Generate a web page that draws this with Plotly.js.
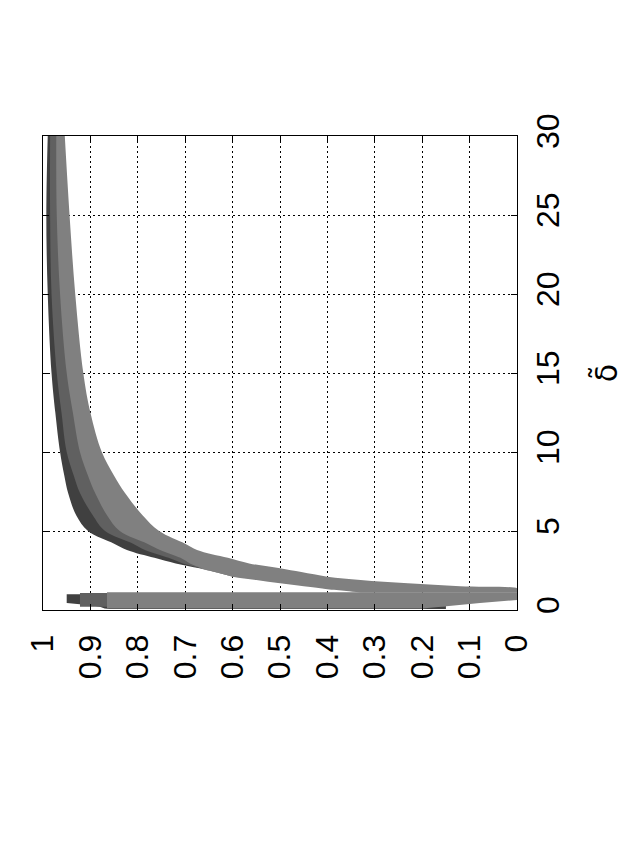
<!DOCTYPE html>
<html>
<head>
<meta charset="utf-8">
<script src="https://cdn.plot.ly/plotly-3.0.1.min.js"></script>
<style>
html,body{margin:0;padding:0;background:#fff;}
#chart{width:641px;height:854px;}
</style>
</head>
<body>
<div id="chart"></div>
<script>
// δ̃ grid for the rising (upper) branch
const deltaUpper = [30,25,20,15,12.5,10,8.5,7.4,6,5,4.2,3.8,3.3,2.95,2.64,2.4,2.11,1.9,1.69,1.5,1.37,1.31,1.2,1.1];
const deltaUpperShort = [30,25,20,15,12.5,10,8.5,7.4,6,5,4.2,3.8,3.3,2.95,2.64,2.4,2.11];

// light series: min / max of values on the upper branch
const lightUpperMin = [0.954,0.944,0.932,0.915,0.900,0.876,0.850,0.827,0.790,0.755,0.700,0.675,0.610,0.565,0.500,0.455,0.400,0.330,0.230,0.120,0,0,0,0];
const lightUpperMax = [0.972,0.971,0.964,0.950,0.937,0.922,0.905,0.890,0.865,0.838,0.780,0.753,0.710,0.690,0.665,0.635,0.600,0.550,0.500,0.450,0.415,0.400,0.360,0.330];
// medium series
const mediumUpperMin = [0.963,0.957,0.948,0.932,0.918,0.899,0.877,0.858,0.827,0.796,0.740,0.714,0.660,0.627,0.582,0.545,0.500];
const mediumUpperMax = [0.985,0.985,0.982,0.971,0.961,0.950,0.935,0.922,0.895,0.869,0.810,0.785,0.735,0.705,0.666,0.636,0.598];
// dark series
const darkUpperMin = [0.972,0.971,0.964,0.950,0.937,0.922,0.905,0.890,0.865,0.838,0.780,0.753,0.710,0.690,0.665,0.635,0.600];
const darkUpperMax = [0.990,0.993,0.990,0.982,0.974,0.964,0.955,0.947,0.930,0.905,0.850,0.823,0.765,0.720,0.670,0.638,0.600];

// falling (lower) branch, small δ̃
const deltaLowLight = [1.12,1.0,0.8,0.63,0.44,0.3,0.2,0.1];
const lightLowMin = [0,0,0,0,0.078,0.12,0.16,0.2];
const lightLowMax = [0.865,0.865,0.865,0.865,0.865,0.865,0.865,0.865];
const deltaLowMedium = [1.07,1.0,0.8,0.63,0.44,0.3,0.2];
const mediumLowMin = [0.3,0.3,0.25,0.2,0.15,0.15,0.15];
const mediumLowMax = [0.922,0.922,0.922,0.922,0.922,0.922,0.922];
const deltaLowDark = [1.0,0.8,0.63,0.44,0.3,0.2,0.1,0.06];
const darkLowMin = [0.3,0.25,0.2,0.15,0.15,0.15,0.15,0.15];
const darkLowMax = [0.95,0.95,0.95,0.95,0.90,0.88,0.87,0.86];

const xTickVals = [0,0.1,0.2,0.3,0.4,0.5,0.6,0.7,0.8,0.9,1];
const xTickText = ["0","0.1","0.2","0.3","0.4","0.5","0.6","0.7","0.8","0.9","1"];
const yTickVals = [0,5,10,15,20,25,30];
const yTickText = ["0","5","10","15","20","25","30"];

const colDark = '#404040', colMedium = '#606060', colLight = '#808080';

function band(d, lo, hi, color, smooth){
  const ln = smooth ? {width:0, color:color, shape:'spline', smoothing:1} : {width:0, color:color};
  return [
    {x: lo, y: d, mode:'lines', line:ln, hoverinfo:'skip', showlegend:false},
    {x: hi, y: d, mode:'lines', line:ln, fill:'tonextx', fillcolor:color, hoverinfo:'skip', showlegend:false}
  ];
}

const traces = [].concat(
  band(deltaUpperShort, darkUpperMin, darkUpperMax, colDark, true),
  band(deltaLowDark, darkLowMin, darkLowMax, colDark, false),
  band(deltaUpperShort, mediumUpperMin, mediumUpperMax, colMedium, true),
  band(deltaLowMedium, mediumLowMin, mediumLowMax, colMedium, false),
  band(deltaUpper, lightUpperMin, lightUpperMax, colLight, true),
  band(deltaLowLight, lightLowMin, lightLowMax, colLight, false)
);

const font = {family:'Liberation Sans, Arial, sans-serif', size:32, color:'#000'};

const layout = {
  width:641, height:854,
  margin:{l:43, r:124, t:136, b:244, pad:0},
  paper_bgcolor:'#fff', plot_bgcolor:'#fff',
  showlegend:false,
  font: font,
  xaxis:{
    range:[1,0], tickvals:xTickVals, ticktext:xTickText, tickangle:-90,
    ticks:'inside', ticklen:6, tickcolor:'#000', tickwidth:1,
    mirror:'ticks', showline:true, linecolor:'#000', linewidth:1,
    showgrid:true, gridcolor:'#000', gridwidth:1, griddash:'2px,3px',
    zeroline:false, tickfont:font, ticklabelstandoff:11
  },
  yaxis:{
    side:'right', range:[0,30], tickvals:yTickVals, ticktext:yTickText, tickangle:-90,
    ticks:'inside', ticklen:6, tickcolor:'#000', tickwidth:1,
    mirror:'ticks', showline:true, linecolor:'#000', linewidth:1,
    showgrid:true, gridcolor:'#000', gridwidth:1, griddash:'2px,3px',
    zeroline:false, tickfont:font, ticklabelstandoff:3,
    title:{text:'δ̃', font:{family:'DejaVu Sans, sans-serif', size:30, color:'#000'}, standoff:30}
  }
};

Plotly.newPlot('chart', traces, layout, {staticPlot:true, displayModeBar:false});
</script>
</body>
</html>
